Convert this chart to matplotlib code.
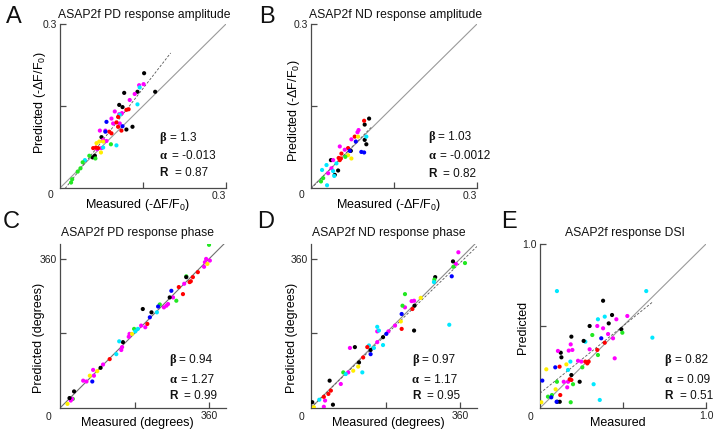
import matplotlib
matplotlib.use('Agg')
import matplotlib.pyplot as plt

plt.rcParams['font.family'] = ['Liberation Sans', 'DejaVu Sans']
plt.rcParams['mathtext.fontset'] = 'custom'
plt.rcParams['mathtext.rm'] = 'Liberation Sans'
plt.rcParams['mathtext.it'] = 'Liberation Sans:italic'

PALETTE = {'k': '#000000', 'm': '#ff00ff', 'c': '#00e8ff', 'g': '#22e822',
           'r': '#ff0000', 'b': '#0000ff', 'y': '#ffee00'}

# ---------------- Panel A: PD response amplitude ----------------
A_x = [0.152, 0.116, 0.140, 0.172, 0.107, 0.113, 0.120, 0.131, 0.075, 0.063, 0.059,
       0.143, 0.151, 0.135, 0.126, 0.099, 0.107, 0.112, 0.093, 0.096, 0.108, 0.072, 0.082, 0.078, 0.084, 0.067, 0.075,
       0.144, 0.140, 0.108, 0.102, 0.078, 0.045,
       0.120, 0.124, 0.105, 0.102, 0.105, 0.111, 0.089, 0.093, 0.065, 0.060, 0.069,
       0.084, 0.113, 0.082,
       0.071, 0.078, 0.074, 0.066,
       0.092, 0.053, 0.064, 0.041, 0.037, 0.032, 0.022, 0.020]
A_y = [0.210, 0.174, 0.176, 0.176, 0.152, 0.148, 0.107, 0.112, 0.093, 0.059, 0.056,
       0.188, 0.190, 0.172, 0.161, 0.140, 0.135, 0.137, 0.127, 0.118, 0.118, 0.105, 0.105, 0.088, 0.086, 0.071, 0.073,
       0.184, 0.153, 0.134, 0.078, 0.074, 0.051,
       0.143, 0.144, 0.130, 0.120, 0.112, 0.105, 0.103, 0.100, 0.074, 0.073, 0.073,
       0.121, 0.113, 0.103,
       0.085, 0.085, 0.065, 0.082,
       0.080, 0.059, 0.054, 0.047, 0.036, 0.030, 0.016, 0.010]
A_col = list("kkkkkkkkkkk" "mmmmmmmmmmmmmmmm" "cccccc" "rrrrrrrrrrr" "bbb" "yyyy" "gggggggg")

# ---------------- Panel B: ND response amplitude ----------------
B_x = [0.105, 0.097, 0.100, 0.097, 0.072, 0.036, 0.049, 0.043,
       0.096, 0.079, 0.067, 0.055, 0.052, 0.050, 0.054,
       0.084, 0.073, 0.052, 0.061, 0.040, 0.037, 0.031, 0.086,
       0.085, 0.067, 0.073,
       0.081, 0.091, 0.096, 0.070,
       0.100, 0.046, 0.028, 0.020, 0.040, 0.042, 0.029,
       0.062, 0.022, 0.018]
B_y = [0.127, 0.116, 0.080, 0.088, 0.068, 0.051, 0.032, 0.024,
       0.123, 0.094, 0.073, 0.063, 0.051, 0.055, 0.054,
       0.102, 0.089, 0.076, 0.070, 0.051, 0.036, 0.027, 0.106,
       0.094, 0.060, 0.054,
       0.085, 0.066, 0.065, 0.068,
       0.094, 0.045, 0.042, 0.033, 0.031, 0.022, 0.005,
       0.057, 0.018, 0.012]
B_col = list("kkkkkkkk" "rrrrrrr" "mmmmmmmm" "yyy" "bbbb" "ccccccc" "ggg")

# ---------------- Panel C: PD response phase ----------------
C_x = [360, 241, 281, 31, 305, 179,
       353, 362, 350, 348, 300, 273, 261, 257, 251, 206, 196, 168, 166, 150, 148, 104, 80, 82, 56, 64, 26, 29,
       356, 174, 90, 72, 18,
       333, 321, 316, 313, 297, 287, 211, 120,
       305, 265, 200, 221, 152, 98, 34, 23,
       269, 237, 217, 78,
       234, 188, 182, 143, 136]
C_y = [394, 250, 259, 22, 318, 191,
       360, 356, 352, 341, 300, 267, 251, 247, 243, 195, 199, 179, 172, 147, 140, 105, 92, 78, 66, 64, 18, 22,
       348, 179, 89, 78, 10,
       328, 316, 306, 304, 275, 292, 203, 118,
       316, 267, 239, 231, 159, 97, 40, 24,
       283, 245, 219, 64,
       231, 191, 185, 161, 130]
C_col = list("gggggg" "mmmmmmmmmmmmmmmmmmmmmm" "yyyyy" "rrrrrrrr" "kkkkkkkk" "bbbb" "ccccc")

# ---------------- Panel D: ND response phase ----------------
D_x = [356, 350, 249, 243, 227, 203, 187, 160, 160, 94, 90, 72, 34, 31,
       343, 300, 250, 249, 174, 144, 106, 116, 45, 53, 3,
       372, 344, 227, 221, 78, 298,
       340, 219, 182, 144,
       297, 334, 160, 164, 174, 152, 140, 124, 84, 20,
       265, 217, 114, 102, 7,
       245, 219, 136, 126, 48, 42, 31]
D_y = [376, 348, 259, 258, 243, 199, 185, 159, 185, 145, 86, 58, 18, 3,
       354, 316, 247, 187, 171, 140, 147, 110, 66, 8, 14,
       350, 341, 275, 247, 86, 310,
       318, 227, 179, 130,
       304, 201, 196, 187, 152, 145, 151, 86, 82, 20,
       266, 209, 100, 90, 2,
       239, 191, 147, 122, 42, 34, 27]
D_col = list("mmmmmmmmmmmmmm" "kkkkkkkkkkk" "gggggg" "bbbb" "cccccccccc" "yyyyy" "rrrrrrr")

# ---------------- Panel E: response DSI ----------------
E_x = [0.102, 0.640, 0.390, 0.677, 0.183, 0.169, 0.323, 0.360, 0.349, 0.273,
       0.380, 0.434, 0.299, 0.414, 0.490, 0.189, 0.263, 0.125, 0.129, 0.189, 0.239, 0.104, 0.119,
       0.526, 0.460, 0.345, 0.380, 0.410, 0.440, 0.185, 0.108, 0.173, 0.195, 0.299, 0.450, 0.229, 0.249, 0.143, 0.169, 0.164,
       0.496, 0.315, 0.349, 0.255, 0.102, 0.199, 0.048, 0.072, 0.185,
       0.369, 0.092, 0.014, 0.068, 0.100,
       0.390, 0.345, 0.273, 0.285, 0.293, 0.118, 0.179, 0.189, 0.122,
       0.159, 0.038, 0.094, 0.008]
E_y = [0.713, 0.713, 0.557, 0.429, 0.283, 0.232, 0.145, 0.049, 0.541, 0.404,
       0.654, 0.567, 0.500, 0.516, 0.480, 0.435, 0.409, 0.337, 0.309, 0.201, 0.160, 0.038, 0.038,
       0.561, 0.541, 0.500, 0.486, 0.451, 0.425, 0.388, 0.348, 0.350, 0.354, 0.358, 0.303, 0.288, 0.283, 0.160, 0.160, 0.126,
       0.459, 0.445, 0.323, 0.248, 0.160, 0.145, 0.069, 0.079, 0.035,
       0.425, 0.248, 0.167, 0.065, 0.038,
       0.398, 0.354, 0.283, 0.272, 0.283, 0.252, 0.175, 0.171, 0.079,
       0.266, 0.236, 0.114, 0.035]
E_col = list("cccccccccc" "kkkkkkkkkkkkk" "mmmmmmmmmmmmmmmmm" "ggggggggg" "bbbbb" "rrrrrrrrr" "yyyy")

# fit statistics (slope, intercept, R)
A_stats = ['1.3', '-0.013', '0.87']
B_stats = ['1.03', '-0.0012', '0.82']
C_stats = ['0.94', '1.27', '0.99']
D_stats = ['0.97', '1.17', '0.95']
E_stats = ['0.82', '0.09', '0.51']

titles = ['ASAP2f PD response amplitude', 'ASAP2f ND response amplitude',
          'ASAP2f PD response phase', 'ASAP2f ND response phase', 'ASAP2f response DSI']
letters = ['A', 'B', 'C', 'D', 'E']

W, H = 719, 437
fig = plt.figure(figsize=(W / 100, H / 100), dpi=100)


def make_axes(left_px, bottom_px):
    return fig.add_axes([left_px / W, (H - bottom_px) / H, 166 / W, 164 / H])


SPINE = '#4a4a4a'


def style(ax):
    for s in ['top', 'right']:
        ax.spines[s].set_visible(False)
    for s in ['left', 'bottom']:
        ax.spines[s].set_color(SPINE)
        ax.spines[s].set_linewidth(0.9)
    ax.tick_params(direction='in', length=4, width=0.9, color=SPINE,
                   labelsize=7.5, labelcolor='#222222', pad=2.5)


def scatter(ax, xs, ys, cols):
    ax.scatter(xs, ys, c=[PALETTE[c] for c in cols], s=9, linewidths=0, zorder=3)


def stats(ax, x0, ys, vals):
    syms = [('β', 'Liberation Serif', 7.3), ('α', 'Liberation Serif', 8.6), ('R', 'Liberation Sans', 11.0)]
    for (sym, fam, dx), v, y in zip(syms, vals, ys):
        ax.text(x0, y, sym, transform=ax.transAxes, fontsize=9 if fam.endswith('Serif') else 8.5,
                family=fam, weight='bold', va='center', ha='left', color='#111111')
        ax.annotate('= ' + v, xy=(x0, y), xycoords='axes fraction', xytext=(dx, 0),
                    textcoords='offset points', fontsize=8.5, va='center', ha='left', color='#111111')


panels = [
    dict(pos=(60, 188), x=A_x, y=A_y, col=A_col, lim=(0.3, 0.3), ticks=[0.15, 0.3], tl='0.3',
         fit=(1.3, -0.013, 0.0, 0.2), st=A_stats, sx=0.60, sy=[0.305, 0.193, 0.090],
         xl='Measured (-ΔF/F$_0$)', yl='Predicted (-ΔF/F$_0$)', xlc=(0.465, -0.104), ylc=(-0.12, 0.52),
         tc=(0.51, 1.055), zero=(-0.06, -0.043), xha='right', letter=(14, 17), idc='#9a9a9a'),
    dict(pos=(311, 188), x=B_x, y=B_y, col=B_col, lim=(0.3, 0.3), ticks=[0.15, 0.3], tl='0.3',
         fit=(1.03, -0.0012, 0.0, 0.11), st=B_stats, sx=0.705, sy=[0.31, 0.195, 0.087],
         xl='Measured (-ΔF/F$_0$)', yl='Predicted (-ΔF/F$_0$)', xlc=(0.47, -0.104), ylc=(-0.10, 0.47),
         tc=(0.51, 1.055), zero=(-0.06, -0.043), xha='right', letter=(267, 17), idc='#9a9a9a'),
    dict(pos=(60, 408), x=C_x, y=C_y, col=C_col, lim=(401, 396), ticks=[180, 360], tl='360',
         fit=None, st=C_stats, sx=0.657, sy=[0.293, 0.171, 0.073],
         xl='Measured (degrees)', yl='Predicted (degrees)', xlc=(0.468, -0.091), ylc=(-0.127, 0.43),
         tc=(0.465, 1.069), zero=(-0.072, -0.053), xha='center', letter=(11, 222), idc='#707070'),
    dict(pos=(311, 408), x=D_x, y=D_y, col=D_col, lim=(401, 396), ticks=[180, 360], tl='360',
         fit=(0.97, 1.17, 0.0, 401), st=D_stats, sx=0.607, sy=[0.293, 0.171, 0.073],
         xl='Measured (degrees)', yl='Predicted (degrees)', xlc=(0.468, -0.091), ylc=(-0.116, 0.43),
         tc=(0.469, 1.069), zero=(-0.056, -0.053), xha='center', letter=(266, 222), idc='#8a8a8a'),
    dict(pos=(540, 408), x=E_x, y=E_y, col=E_col, lim=(1.0, 1.0), ticks=[0.5, 1.0], tl='1.0',
         fit=(0.82, 0.09, 0.0, 0.68), st=E_stats, sx=0.751, sy=[0.293, 0.171, 0.073],
         xl='Measured', yl='Predicted', xlc=(0.47, -0.091), ylc=(-0.10, 0.49),
         tc=(0.514, 1.069), zero=(-0.06, -0.053), xha='center', letter=(509, 222), idc='#9a9a9a'),
]

for i, p in enumerate(panels):
    ax = make_axes(*p['pos'])
    style(ax)
    xmax, ymax = p['lim']
    ax.set_xlim(0, xmax)
    ax.set_ylim(0, ymax)
    # identity line
    lim = max(xmax, ymax)
    ax.plot([0, lim], [0, lim], color=p['idc'], lw=0.8, zorder=1, clip_on=True)
    # regression fit
    if p['fit'] is not None:
        b, a, x0, x1 = p['fit']
        ax.plot([x0, x1], [b * x0 + a, b * x1 + a], color='#555555', lw=0.6,
                ls=(0, (3, 2)), zorder=2)
    scatter(ax, p['x'], p['y'], p['col'])
    ax.set_xticks(p['ticks'])
    ax.set_xticklabels(['', p['tl']])
    ax.set_yticks(p['ticks'])
    ax.set_yticklabels(['', p['tl']])
    for lab in ax.get_xticklabels():
        lab.set_ha(p['xha'])
    ax.text(*p['zero'], '0', transform=ax.transAxes, fontsize=7.5, color='#222222',
            ha='center', va='center')
    ax.set_xlabel(p['xl'], fontsize=9)
    ax.xaxis.set_label_coords(*p['xlc'])
    ax.xaxis.label.set_va('center')
    ax.set_ylabel(p['yl'], fontsize=9)
    ax.yaxis.set_label_coords(*p['ylc'])
    ax.yaxis.label.set_va('center')
    ax.text(p['tc'][0], p['tc'][1], titles[i], transform=ax.transAxes, fontsize=8.7,
            ha='center', va='center', color='#111111')
    stats(ax, p['sx'], p['sy'], p['st'])
    fig.text(p['letter'][0] / W, 1 - p['letter'][1] / H, letters[i], fontsize=17,
             ha='center', va='center', color='#111111')

fig.savefig('out.png', dpi=100)
